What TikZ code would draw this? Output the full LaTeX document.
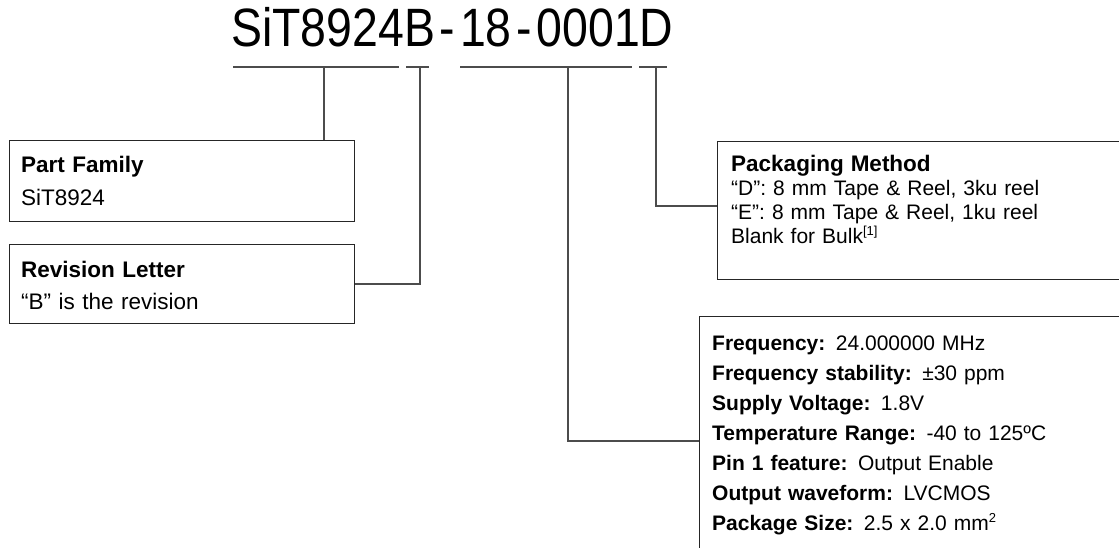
\documentclass[tikz,border=0pt]{standalone}
\usepackage{fontspec}
\setmainfont{Liberation Sans}
\usetikzlibrary{positioning}

\tikzset{
  infobox/.style={draw=black!85, line width=1.2pt, anchor=north west, inner sep=0pt},
  infotext/.style={anchor=base west, inner sep=0pt, text width=#1, align=left},
  leader/.style={draw=black!70, line width=1.3pt},
}
\newcommand{\supnote}[1]{\raisebox{8pt}{\fontsize{13}{13}\selectfont #1}}

\begin{document}
\begin{tikzpicture}[x=1pt,y=-1pt]
        \clip (0,0) rectangle (1119,548);
        % part number
        \node[anchor=base west, inner sep=0pt] (partno) at (231,47)
            {\scalebox{0.86}[1]{\fontsize{54}{54}\selectfont SiT8924B\kern5.5pt-\kern5.5pt18\kern5.5pt-\kern5.5pt0001D}};

        % underlines and their ticks
        \coordinate (famL) at (233,67);  \coordinate (famR) at (399,67);
        \coordinate (revL) at (406,67);  \coordinate (revR) at (429,67);
        \coordinate (optL) at (460,67);  \coordinate (optR) at (632,67);
        \coordinate (pkgL) at (639,67);  \coordinate (pkgR) at (667,67);
        \foreach \a/\b in {famL/famR,revL/revR,optL/optR,pkgL/pkgR}
            \draw[leader] (\a) -- (\b);
        \coordinate (famT) at (324,67);
        \coordinate (revT) at (420,67);
        \coordinate (optT) at (568,67);
        \coordinate (pkgT) at (656,67);

        % boxes
        \node[infobox, minimum width=345pt, minimum height=81pt] (family) at (9,140) {};
        \node[infobox, minimum width=345pt, minimum height=79pt] (revision) at (9,244) {};
        \node[infobox, minimum width=440pt, minimum height=138pt] (packing) at (717,141) {};
        \node[infobox, minimum width=460pt, minimum height=260pt] (options) at (699,316) {};

        \node[infotext=320pt, font=\fontsize{22.5}{32.5}\selectfont] (famtxt)
            at ([shift={(12pt,-33pt)}]family.north west) {\textbf{Part Family}\\SiT8924};
        \node[infotext=320pt, font=\fontsize{22.5}{32.5}\selectfont] (revtxt)
            at ([shift={(12pt,-33pt)}]revision.north west) {\textbf{Revision Letter}\\“B” is the revision};
        \node[infotext=380pt, font=\fontsize{21}{23.8}\selectfont] (pkgtxt)
            at ([shift={(14pt,-31pt)}]packing.north west)
            {{\fontsize{22.5}{23.8}\selectfont\bfseries Packaging Method}\\
             “D”: 8 mm Tape \& Reel, 3ku reel\\
             “E”: 8 mm Tape \& Reel, 1ku reel\\
             Blank for Bulk\supnote{[1]}};
        \node[infotext=400pt, font=\fontsize{21}{30}\selectfont] (opttxt)
            at ([shift={(13pt,-34pt)}]options.north west)
            {\textbf{Frequency:} 24.000000 MHz\\
             \textbf{Frequency stability:} ±30 ppm\\
             \textbf{Supply Voltage:} 1.8V\\
             \textbf{Temperature Range:} -40 to 125ºC\\
             \textbf{Pin 1 feature:} Output Enable\\
             \textbf{Output waveform:} LVCMOS\\
             \textbf{Package Size:} 2.5 x 2.0 mm\supnote{2}};

        % connectors
        \draw[leader] (famT) -- (famT |- family.north);
        \draw[leader] (revT) |- (revision.east);
        \draw[leader] (optT) |- ([yshift=-125pt]options.north west);
        \draw[leader] (pkgT) |- ([yshift=-65pt]packing.north west);
\end{tikzpicture}
\end{document}
